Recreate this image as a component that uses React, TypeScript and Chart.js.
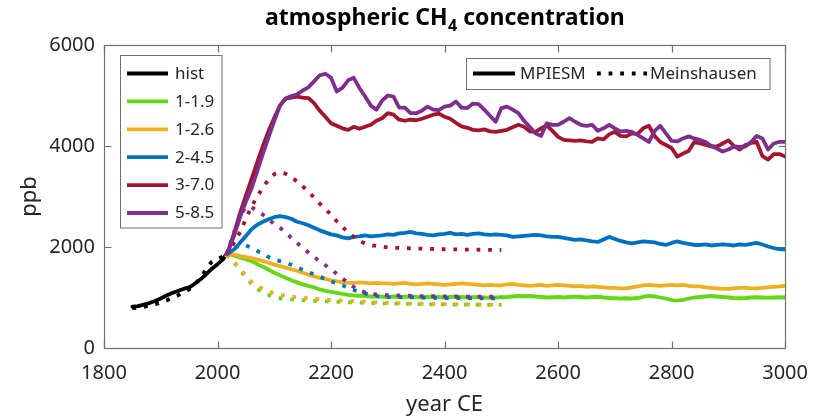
import React, { useEffect, useRef } from "react";
import { Chart, registerables } from "chart.js";

Chart.register(...registerables);

// ---------- data ----------
const histYears = [1850, 1860, 1870, 1880, 1890, 1900, 1910, 1920, 1930, 1940, 1950, 1960, 1970, 1980, 1990, 2000, 2010, 2014];
const histModel = [820, 830, 860, 890, 930, 980, 1040, 1090, 1130, 1170, 1200, 1270, 1360, 1460, 1570, 1660, 1760, 1830];
const histMein = [790, 800, 815, 840, 870, 900, 940, 990, 1040, 1100, 1160, 1260, 1390, 1560, 1710, 1770, 1810, 1830];

const modelYears = [
  2015, 2020, 2030, 2040, 2050, 2060, 2070, 2080, 2090, 2100,
  2110, 2120, 2130, 2140, 2150, 2160, 2170, 2180, 2190, 2200,
  2210, 2220, 2230, 2240, 2250, 2260, 2270, 2280, 2290, 2300,
  2310, 2320, 2330, 2340, 2350, 2360, 2370, 2380, 2390, 2400,
  2410, 2420, 2430, 2440, 2450, 2460, 2470, 2480, 2490, 2500,
  2510, 2520, 2530, 2540, 2550, 2560, 2570, 2580, 2590, 2600,
  2610, 2620, 2630, 2640, 2650, 2660, 2670, 2680, 2690, 2700,
  2710, 2720, 2730, 2740, 2750, 2760, 2770, 2780, 2790, 2800,
  2810, 2820, 2830, 2840, 2850, 2860, 2870, 2880, 2890, 2900,
  2910, 2920, 2930, 2940, 2950, 2960, 2970, 2980, 2990, 3000,
];

const model119 = [
  1840, 1860, 1830, 1790, 1760, 1720, 1660, 1610, 1550, 1490,
  1440, 1390, 1340, 1300, 1260, 1230, 1200, 1160, 1130, 1110,
  1090, 1070, 1050, 1040, 1035, 1030, 1020, 1020, 1015, 1010,
  1020, 1010, 1015, 1020, 1010, 1000, 1010, 1020, 1010, 1000,
  1010, 1020, 1010, 1000, 1005, 1010, 1000, 995, 1000, 1005,
  1010, 1020, 1030, 1025, 1030, 1020, 1010, 1000, 1005, 1010,
  1000, 1010, 1020, 1010, 1000, 1010, 1015, 1000, 990, 985,
  980, 985, 980, 990, 1010, 1030, 1020, 1000, 980, 950,
  940, 955, 980, 1000, 1010, 1020, 1030, 1020, 1010, 1000,
  990, 985, 990, 1000, 1005, 1000, 995, 1000, 1005, 1000,
];
const model126 = [
  1840, 1860, 1850, 1820, 1800, 1780, 1750, 1720, 1690, 1650,
  1620, 1590, 1560, 1530, 1490, 1450, 1420, 1390, 1370, 1340,
  1320, 1300, 1290, 1290, 1300, 1290, 1280, 1290, 1280, 1280,
  1270, 1280, 1290, 1270, 1260, 1270, 1280, 1270, 1260, 1250,
  1260, 1270, 1280, 1270, 1260, 1250, 1240, 1250, 1240, 1240,
  1260, 1270, 1250, 1240, 1230, 1240, 1250, 1230, 1240, 1250,
  1240, 1230, 1220, 1230, 1210, 1220, 1210, 1200, 1190, 1190,
  1180, 1180, 1200, 1220, 1240, 1250, 1240, 1230, 1240, 1250,
  1240, 1250, 1230, 1220, 1220, 1200, 1190, 1180, 1170, 1170,
  1180, 1190, 1190, 1180, 1180, 1190, 1200, 1210, 1220, 1230,
];
const model245 = [
  1840, 1880, 1960, 2090, 2220, 2350, 2440, 2500, 2550, 2590,
  2610, 2590, 2560, 2500, 2470, 2430, 2380, 2330, 2290, 2250,
  2230, 2190, 2170, 2200, 2210, 2230, 2210, 2220, 2230, 2250,
  2240, 2270, 2280, 2300, 2270, 2260, 2240, 2230, 2250, 2260,
  2280, 2250, 2260, 2240, 2260, 2270, 2250, 2240, 2250, 2240,
  2230, 2200, 2210, 2220, 2230, 2240, 2230, 2210, 2200, 2200,
  2180, 2160, 2140, 2150, 2130, 2110, 2100, 2150, 2200, 2160,
  2120, 2090, 2070, 2090, 2110, 2100, 2090, 2060, 2040, 2080,
  2110, 2080, 2060, 2040, 2040, 2050, 2030, 2040, 2050, 2040,
  2030, 2050, 2040, 2060, 2080, 2050, 2010, 1980, 1960, 1950,
];
const model370 = [
  1840, 1960, 2300, 2680, 3020, 3350, 3680, 4000, 4300, 4560,
  4800, 4940, 4960, 4980, 4960, 4950, 4850, 4700, 4580, 4450,
  4400, 4350, 4320, 4380, 4340, 4380, 4420, 4500, 4550, 4650,
  4620, 4520, 4500, 4520, 4510, 4540, 4580, 4620, 4640, 4580,
  4540, 4460, 4390, 4360, 4320, 4310, 4330, 4290, 4280, 4300,
  4320, 4370, 4420, 4380, 4290, 4280, 4350, 4410, 4300, 4180,
  4120, 4110, 4100, 4110, 4090, 4080, 4150, 4130, 4230, 4280,
  4200, 4190, 4250, 4240, 4350, 4400, 4200, 4080, 4020, 3960,
  3790, 3850, 3900, 4080, 4050, 4020, 3990, 3990, 4050, 4110,
  4000, 3930, 4020, 4060, 4080, 3800, 3730, 3840, 3840, 3790,
];
const model585 = [
  1840, 1950, 2250, 2600, 2900, 3160, 3500, 3850, 4180, 4500,
  4800, 4940, 4990, 5020, 5100, 5160, 5280, 5400, 5430, 5350,
  5080, 5150, 5300, 5350, 5150, 4980, 4800, 4720, 4900, 5000,
  4980, 4760, 4760, 4650, 4650, 4700, 4780, 4720, 4710, 4780,
  4800, 4880, 4760, 4750, 4840, 4830, 4720, 4600, 4480, 4750,
  4780, 4720, 4650, 4500, 4380, 4250, 4200, 4450, 4420, 4420,
  4480, 4550, 4480, 4420, 4400, 4420, 4300, 4350, 4420, 4350,
  4290, 4300, 4280, 4220, 4150, 4080, 4300, 4400, 4250, 4100,
  4090, 4150, 4190, 4150, 4120, 4080, 4000, 3950, 3890, 3930,
  3990, 3980, 3990, 4080, 4200, 4150, 3930, 4050, 4080, 4080,
];

const meinYears = [
  2015, 2020, 2030, 2040, 2050, 2060, 2070, 2080, 2090, 2100,
  2110, 2120, 2130, 2140, 2150, 2160, 2170, 2180, 2190, 2200,
  2210, 2220, 2230, 2240, 2250, 2260, 2270, 2280, 2290, 2300,
  2350, 2400, 2450, 2500,
];
const mein119 = [1840, 1790, 1680, 1540, 1400, 1270, 1170, 1100, 1050, 1010, 985, 970, 962, 955, 948, 942, 936, 930, 925, 920, 915, 910, 906, 902, 898, 895, 892, 888, 885, 882, 870, 862, 857, 853];
const mein126 = [1840, 1800, 1700, 1570, 1430, 1310, 1230, 1170, 1120, 1080, 1055, 1035, 1020, 1005, 995, 985, 975, 965, 958, 950, 945, 938, 932, 927, 922, 917, 912, 905, 898, 892, 878, 868, 862, 858];
const mein245 = [1840, 1900, 1980, 2030, 2030, 1980, 1920, 1870, 1800, 1750, 1720, 1690, 1650, 1600, 1550, 1500, 1460, 1410, 1370, 1320, 1280, 1240, 1190, 1150, 1110, 1080, 1050, 1030, 1015, 1010, 1000, 990, 985, 980];
const mein370 = [1840, 1930, 2100, 2300, 2560, 2800, 3000, 3180, 3340, 3440, 3480, 3450, 3380, 3300, 3200, 3100, 2980, 2860, 2750, 2640, 2510, 2400, 2290, 2200, 2120, 2070, 2040, 2020, 2005, 1990, 1970, 1955, 1948, 1940];
const mein585 = [1840, 1990, 2320, 2620, 2790, 2790, 2710, 2640, 2550, 2450, 2380, 2290, 2180, 2080, 1990, 1890, 1800, 1720, 1640, 1560, 1470, 1380, 1290, 1210, 1140, 1100, 1075, 1060, 1050, 1045, 1030, 1020, 1015, 1015];

const legendLabels = ["hist", "1-1.9", "1-2.6", "2-4.5", "3-7.0", "5-8.5"];
const seriesColors = ["#000000", "#66D61A", "#EDB120", "#0072BD", "#A2142F", "#7E2F8E"];
const styleLabels = ["MPIESM", "Meinshausen"];

const xTicks = [1800, 2000, 2200, 2400, 2600, 2800, 3000];
const yTicks = [0, 2000, 4000, 6000];

const TEXT = "#262626";
const FONT = '"Noto Sans", sans-serif';
const LW = 3.8;
const DASH = [3.8, 7.8];

function pts(xs: number[], ys: number[]) {
  return xs.map((x, i) => ({ x, y: ys[i] }));
}

const decor = {
  id: "decor",
  beforeDatasetsDraw(chart: any) {
    const { ctx, chartArea: a, scales } = chart;
    ctx.save();
    ctx.strokeStyle = "#707070";
    ctx.lineWidth = 1.2;
    const L = Math.round(a.left) + 0.5, R = Math.round(a.right) + 0.5;
    const T = Math.round(a.top) + 0.5, B = Math.round(a.bottom) + 0.5;
    ctx.strokeRect(L, T, R - L, B - T);
    const tl = 7;
    ctx.beginPath();
    for (const v of xTicks) {
      const px = Math.round(scales.x.getPixelForValue(v)) + 0.5;
      ctx.moveTo(px, B); ctx.lineTo(px, B - tl);
      ctx.moveTo(px, T); ctx.lineTo(px, T + tl);
    }
    for (const v of yTicks) {
      const py = Math.round(scales.y.getPixelForValue(v)) + 0.5;
      ctx.moveTo(L, py); ctx.lineTo(L + tl, py);
      ctx.moveTo(R, py); ctx.lineTo(R - tl, py);
    }
    ctx.stroke();
    ctx.restore();
  },
  afterDraw(chart: any) {
    const { ctx, chartArea: a } = chart;
    ctx.save();
    // title with subscript
    const p1 = "atmospheric CH", p2 = "4", p3 = " concentration";
    const big = `bold 23px ${FONT}`, small = `bold 16px ${FONT}`;
    ctx.font = big;
    const w1 = ctx.measureText(p1).width;
    const w3 = ctx.measureText(p3).width;
    ctx.font = small;
    const w2 = ctx.measureText(p2).width;
    const cx = (a.left + a.right) / 2;
    const x0 = cx - (w1 + w2 + w3) / 2;
    const base = 25;
    ctx.fillStyle = "#000";
    ctx.textBaseline = "alphabetic";
    ctx.textAlign = "left";
    ctx.font = big;
    ctx.fillText(p1, x0, base);
    ctx.font = small;
    ctx.fillText(p2, x0 + w1 + 0.5, base + 6);
    ctx.font = big;
    ctx.fillText(p3, x0 + w1 + w2 + 0.5, base);

    // left legend box
    ctx.fillStyle = "#fff";
    ctx.strokeStyle = "#707070";
    ctx.lineWidth = 1;
    ctx.fillRect(120.5, 55.5, 101.5, 172.5);
    ctx.strokeRect(120.5, 55.5, 101.5, 172.5);
    ctx.font = `17px ${FONT}`;
    ctx.textBaseline = "middle";
    legendLabels.forEach((lab, i) => {
      const y = 73.5 + i * 27.9;
      ctx.strokeStyle = seriesColors[i];
      ctx.lineWidth = LW;
      ctx.setLineDash([]);
      ctx.beginPath();
      ctx.moveTo(127, y);
      ctx.lineTo(168, y);
      ctx.stroke();
      ctx.fillStyle = TEXT;
      ctx.fillText(lab, 175, y + 0.5);
    });

    // right legend box
    ctx.fillStyle = "#fff";
    ctx.strokeStyle = "#707070";
    ctx.lineWidth = 1;
    ctx.fillRect(466.5, 58.5, 303.5, 31);
    ctx.strokeRect(466.5, 58.5, 303.5, 31);
    const ly = 73.5;
    ctx.strokeStyle = "#000";
    ctx.lineWidth = LW;
    ctx.beginPath();
    ctx.moveTo(473, ly); ctx.lineTo(515, ly);
    ctx.stroke();
    ctx.setLineDash(DASH);
    ctx.lineCap = "butt";
    ctx.beginPath();
    ctx.moveTo(597, ly); ctx.lineTo(647, ly);
    ctx.stroke();
    ctx.setLineDash([]);
    ctx.fillStyle = TEXT;
    ctx.fillText(styleLabels[0], 520, ly + 0.5);
    ctx.fillText(styleLabels[1], 650, ly + 0.5);
    ctx.restore();
  },
};

export default function App() {
  const ref = useRef<HTMLCanvasElement | null>(null);
  useEffect(() => {
    if (!ref.current) return;
    Chart.defaults.font.family = FONT;
    const solid = (data: any, color: string) => ({
      data, borderColor: color, backgroundColor: color, borderWidth: LW,
      pointRadius: 0, fill: false, tension: 0, borderJoinStyle: "round" as const, borderCapStyle: "round" as const,
    });
    const dotted = (data: any, color: string) => ({
      data, borderColor: color, backgroundColor: color, borderWidth: LW,
      pointRadius: 0, fill: false, tension: 0, borderDash: DASH, borderCapStyle: "butt" as const,
    });
    const list = [
      solid(pts(histYears, histModel), seriesColors[0]),
      dotted(pts(histYears, histMein), seriesColors[0]),
      solid(pts(modelYears, model119), seriesColors[1]),
      solid(pts(modelYears, model126), seriesColors[2]),
      solid(pts(modelYears, model245), seriesColors[3]),
      solid(pts(modelYears, model370), seriesColors[4]),
      solid(pts(modelYears, model585), seriesColors[5]),
      dotted(pts(meinYears, mein119), seriesColors[1]),
      dotted(pts(meinYears, mein126), seriesColors[2]),
      dotted(pts(meinYears, mein245), seriesColors[3]),
      dotted(pts(meinYears, mein370), seriesColors[4]),
      dotted(pts(meinYears, mein585), seriesColors[5]),
    ];
    const datasets = list.map((d, i) => ({ ...d, order: list.length - i }));
    const chart = new Chart(ref.current, {
      type: "line",
      data: { datasets },
      plugins: [decor],
      options: {
        animation: false,
        responsive: false,
        devicePixelRatio: 1,
        layout: { padding: { top: 45, right: 35, left: 0, bottom: 0 } },
        plugins: { legend: { display: false }, tooltip: { enabled: false }, title: { display: false } },
        scales: {
          x: {
            type: "linear", min: 1800, max: 3000,
            grid: { display: false, drawTicks: false },
            border: { display: false },
            ticks: {
              stepSize: 200, color: TEXT, font: { size: 20 }, padding: 13,
              maxRotation: 0, autoSkip: false, callback: (v: any) => String(v),
            },
            title: { display: true, text: "year CE", color: TEXT, font: { size: 22 }, padding: { top: 0, bottom: 1 } },
            afterFit: (s: any) => { s.height = 71; },
          },
          y: {
            type: "linear", min: 0, max: 6000,
            grid: { display: false, drawTicks: false },
            border: { display: false },
            ticks: { stepSize: 2000, color: TEXT, font: { size: 20 }, padding: 9, callback: (v: any) => String(v) },
            title: { display: true, text: "ppb", color: TEXT, font: { size: 22 }, padding: { top: 17, bottom: 0 } },
            afterFit: (s: any) => { s.width = 104; },
          },
        },
      } as any,
    });
    return () => chart.destroy();
  }, []);
  return (
    <div style={{ position: "fixed", left: 0, top: 0, width: 821, height: 419, background: "#fff" }}>
      <canvas ref={ref} width={821} height={419} style={{ width: 821, height: 419, display: "block" }} />
    </div>
  );
}
